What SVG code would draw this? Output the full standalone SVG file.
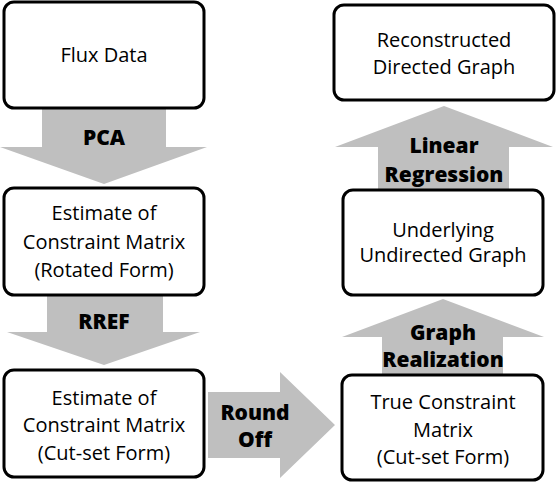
<svg xmlns="http://www.w3.org/2000/svg" width="556" height="482" viewBox="0 0 556 482">
<style>
.box{fill:#fff;stroke:#000;stroke-width:3}
.arr{fill:#bfbfbf;stroke:none}
.t{font-family:"Open Sans","Liberation Sans",sans-serif;font-size:20px;fill:#000;text-anchor:middle}
.b{font-family:"Open Sans","Liberation Sans",sans-serif;font-size:21px;font-weight:800;fill:#000;text-anchor:middle}
</style>
<rect width="556" height="482" fill="#fff"/>
<g id="connectors">
<path class="arr" d="M42,108 H166 V147 H207 L104,184 L0,147 H42 Z"/>
<text class="b" x="104" y="145">PCA</text>
<path class="arr" d="M47,295 H163 V332 H200 L104,365 L7,332 H47 Z"/>
<text class="b" x="104" y="329">RREF</text>
<path class="arr" d="M208,392 H280 V372 L335,425 L280,478 V458 H208 Z"/>
<text class="b" x="255" y="420">Round</text>
<text class="b" x="255" y="447">Off</text>
<path class="arr" d="M382,375 V337 H342 L443,299 L544,337 H503 V375 Z"/>
<text class="b" x="443" y="340">Graph</text>
<text class="b" x="443" y="367">Realization</text>
<path class="arr" d="M378,190 V147 H335 L444,106 L553,147 H509 V190 Z"/>
<text class="b" x="444" y="153">Linear</text>
<text class="b" x="444" y="182">Regression</text>
</g>
<g id="flux">
<rect class="box" x="4" y="2" width="200" height="106" rx="10"/>
<text class="t" x="104" y="62">Flux Data</text>
</g>
<g id="rotated">
<rect class="box" x="4" y="188" width="200" height="107" rx="10"/>
<text class="t" x="104" y="220">Estimate of</text>
<text class="t" x="104" y="249">Constraint Matrix</text>
<text class="t" x="104" y="277">(Rotated Form)</text>
</g>
<g id="cutset">
<rect class="box" x="4" y="370" width="200" height="107" rx="10"/>
<text class="t" x="104" y="405">Estimate of</text>
<text class="t" x="104" y="432">Constraint Matrix</text>
<text class="t" x="104" y="460">(Cut-set Form)</text>
</g>
<g id="true">
<rect class="box" x="342" y="375" width="201" height="105" rx="10"/>
<text class="t" x="443" y="409">True Constraint</text>
<text class="t" x="443" y="437">Matrix</text>
<text class="t" x="443" y="464">(Cut-set Form)</text>
</g>
<g id="undirected">
<rect class="box" x="343" y="190" width="200" height="105" rx="10"/>
<text class="t" x="443" y="237">Underlying</text>
<text class="t" x="443" y="262">Undirected Graph</text>
</g>
<g id="directed">
<rect class="box" x="334" y="5" width="220" height="95" rx="10"/>
<text class="t" x="444" y="47">Reconstructed</text>
<text class="t" x="444" y="74">Directed Graph</text>
</g>
</svg>
